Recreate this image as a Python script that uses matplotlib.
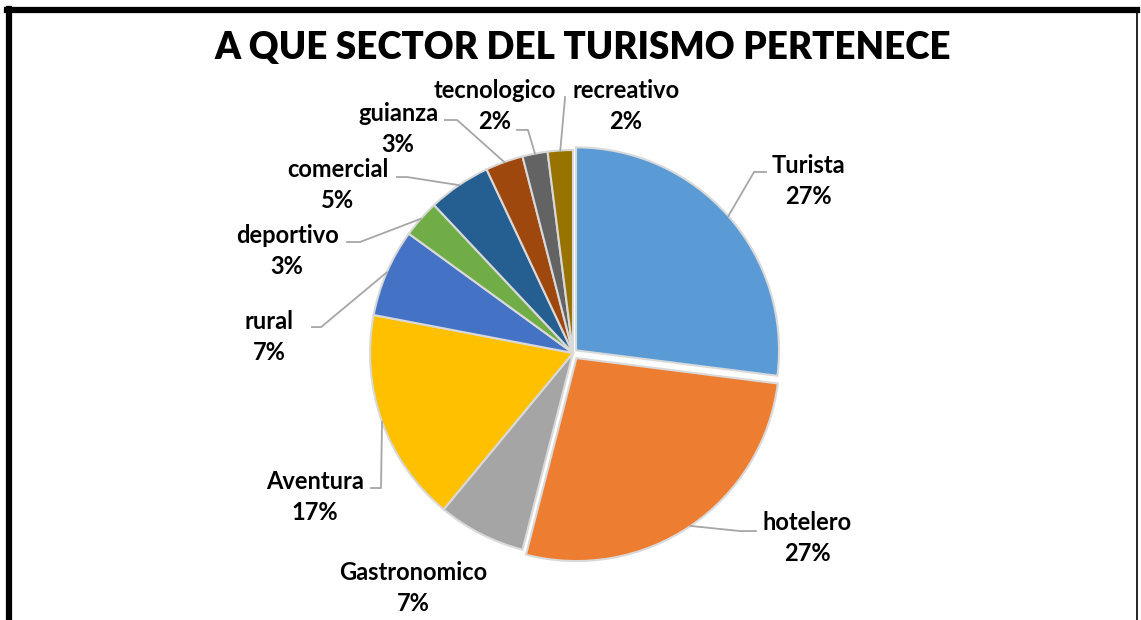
import numpy as np
import matplotlib.pyplot as plt
from matplotlib.lines import Line2D

sectors = ['Turista', 'hotelero', 'Gastronomico', 'Aventura', 'rural',
           'deportivo', 'comercial', 'guianza', 'tecnologico', 'recreativo']
percent = [27, 27, 7, 17, 7, 3, 5, 3, 2, 2]
colors = ['#5B9BD5', '#ED7D31', '#A5A5A5', '#FFC000', '#4472C4',
          '#70AD47', '#255E91', '#9E480E', '#636363', '#997300']
explode = [0.02, 0.03, 0, 0, 0, 0, 0, 0, 0, 0]

# label centres and leader-line elbows (axes data units, radius = 1)
label_pos = [(1.158, 0.847), (1.153, -0.911), (-0.788, -1.158), (-1.271, -0.709),
             (-1.498, 0.079), (-1.409, 0.502), (-1.158, 0.828), (-0.862, 1.103),
             (-0.384, 1.217), (0.261, 1.217)]
leaders = [[(0.892, 0.892), (0.951, 0.892)],
           [(0.823, -0.877), (0.901, -0.877)],
           None,
           [(-0.946, -0.665), (-0.995, -0.665)],
           [(-1.241, 0.128), (-1.286, 0.128)],
           [(-1.049, 0.547), (-1.113, 0.547)],
           [(-0.818, 0.867), (-0.867, 0.867)],
           [(-0.571, 1.148), (-0.631, 1.148)],
           [(-0.222, 1.099), (-0.276, 1.099)],
           [(-0.039, 1.261)]]

plt.rcParams['font.family'] = ['Lato', 'DejaVu Sans']

fig = plt.figure(figsize=(11.41, 6.2), dpi=100)
ax = fig.add_axes([0.3243, 0.1032, 0.3558, 0.6548])

wedges, _ = ax.pie(percent, colors=colors, startangle=90, counterclock=False,
                   explode=explode, radius=1,
                   wedgeprops=dict(edgecolor='#D9D9D9', linewidth=1.5))
ax.set_xlim(-1, 1)
ax.set_ylim(-1, 1)
ax.set_aspect('equal')
ax.axis('off')

for w, name, p, pos, lead in zip(wedges, sectors, percent, label_pos, leaders):
    ax.text(pos[0], pos[1], f'{name}\n{p}%', ha='center', va='center',
            fontsize=17, fontweight='bold', linespacing=1.42, clip_on=False)
    if lead is None:
        continue
    mid = np.deg2rad((w.theta1 + w.theta2) / 2)
    cx, cy = w.center
    pts = [(cx + np.cos(mid), cy + np.sin(mid))] + lead
    xs, ys = zip(*pts)
    ax.plot(xs, ys, color='#A6A6A6', linewidth=1.3, clip_on=False)

fig.text(0.511, 0.922, 'A QUE SECTOR DEL TURISMO PERTENECE', ha='center', va='center',
         fontsize=26.5, fontweight='heavy')

# chart frame
fig.add_artist(Line2D([0.0079, 0.0079], [0, 0.986], color='black', linewidth=4.5))
fig.add_artist(Line2D([0.006, 0.9965], [0.984, 0.984], color='black', linewidth=4.5))
fig.add_artist(Line2D([0.9965, 0.9965], [0, 0.986], color='black', linewidth=1.2))

fig.savefig('out.png', dpi=100)
